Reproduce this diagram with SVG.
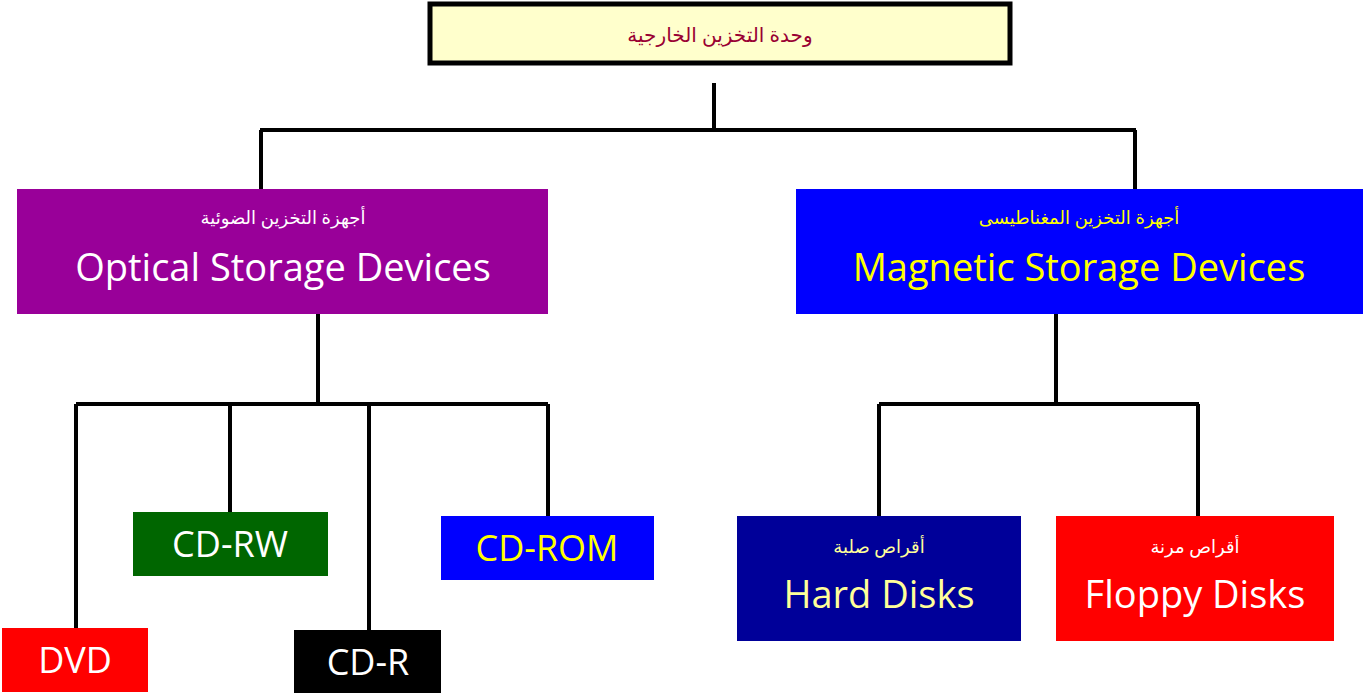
<svg xmlns="http://www.w3.org/2000/svg" width="1364" height="696" viewBox="0 0 1364 696">
<style>
.c{stroke:#000;stroke-width:4;fill:none}
.en{font-family:"Open Sans","DejaVu Sans",sans-serif;text-anchor:middle}
.ar{font-family:"Noto Sans","DejaVu Sans",sans-serif;text-anchor:middle}
</style>
<rect width="1364" height="696" fill="#fff"/>
<g id="connectors">
<path class="c" d="M714 83V130M260 130H1136M261 130V189M1135 130V189"/>
<path class="c" d="M318 314V404M76 404H548M76 404V628M230 404V512M369 404V630M548 404V516"/>
<path class="c" d="M1056 314V404M879 404H1199M879 404V516M1198 404V516"/>
</g>
<g id="root"><rect x="430" y="4" width="580" height="59" fill="#FFFFCC" stroke="#000" stroke-width="5"/>
<text x="720" y="42" class="ar" font-size="20" fill="#990033">وحدة التخزين الخارجية</text></g>
<g id="optical"><rect x="17" y="189" width="531" height="125" fill="#990099"/>
<text x="283" y="224" class="ar" font-size="18" fill="#fff">أجهزة التخزين الضوئية</text>
<text x="283" y="281" class="en" font-size="38" fill="#fff">Optical Storage Devices</text></g>
<g id="magnetic"><rect x="796" y="189" width="567" height="125" fill="#0000FF"/>
<text x="1079" y="224" class="ar" font-size="18" fill="#FFFF00">أجهزة التخزين المغناطيسى</text>
<text x="1079" y="281" class="en" font-size="38" fill="#FFFF00">Magnetic Storage Devices</text></g>
<g id="cdrw"><rect x="133" y="512" width="195" height="64" fill="#006600"/>
<text x="230" y="557" class="en" font-size="36" fill="#fff">CD-RW</text></g>
<g id="cdrom"><rect x="441" y="516" width="213" height="64" fill="#0000FF"/>
<text x="547" y="561" class="en" font-size="36" fill="#FFFF00">CD-ROM</text></g>
<g id="dvd"><rect x="2" y="628" width="146" height="64" fill="#FF0000"/>
<text x="75" y="673" class="en" font-size="36" fill="#fff">DVD</text></g>
<g id="cdr"><rect x="294" y="630" width="147" height="63" fill="#000"/>
<text x="368" y="675" class="en" font-size="36" fill="#fff">CD-R</text></g>
<g id="hard"><rect x="737" y="516" width="284" height="125" fill="#000099"/>
<text x="879" y="553" class="ar" font-size="18" fill="#FFFF99">أقراص صلبة</text>
<text x="879" y="608" class="en" font-size="38" fill="#FFFF99">Hard Disks</text></g>
<g id="floppy"><rect x="1056" y="516" width="278" height="125" fill="#FF0000"/>
<text x="1195" y="553" class="ar" font-size="18" fill="#fff">أقراص مرنة</text>
<text x="1195" y="608" class="en" font-size="38" fill="#fff">Floppy Disks</text></g>
</svg>
